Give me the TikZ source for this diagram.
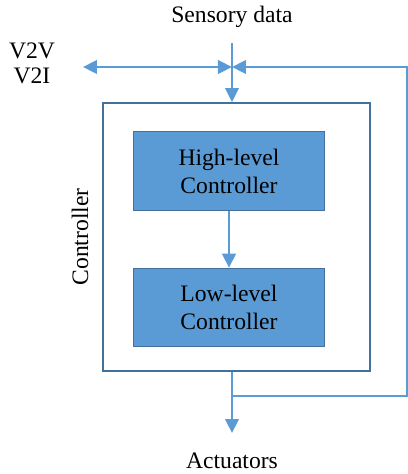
\documentclass[tikz,border=0pt]{standalone}
\usepackage{fontspec}
\setmainfont{Liberation Serif}
\usetikzlibrary{arrows.meta,positioning,calc}
\definecolor{flowblue}{RGB}{91,155,213}
\definecolor{edgeblue}{RGB}{65,113,156}
\tikzset{
  flow/.style={-{Triangle[length=3.5mm,width=3.4mm]}, flowblue, line width=1.3pt},
  bothflow/.style={{Triangle[length=3.5mm,width=3.4mm]}-{Triangle[length=3.5mm,width=3.4mm]}, flowblue, line width=1.3pt},
  frame/.style={draw=edgeblue, line width=1.3pt, minimum width=6.675cm, minimum height=6.7cm},
  ctrlbox/.style={draw=edgeblue, fill=flowblue, line width=0.8pt,
                  minimum width=4.775cm, minimum height=1.96cm, align=center},
  lbl/.style={font=\fontsize{16.8}{20}\selectfont, text=black},
}

\begin{document}
\begin{tikzpicture}
    \useasboundingbox (0,0) rectangle (10.175,11.85);
    % controller block with its two levels
    \node[frame] (ctrl) at (5.9125,5.925) {};
    \node[ctrlbox, lbl] (hlc) at (5.725,7.575) {High-level\\Controller};
    \node[ctrlbox, lbl] (llc) at (5.725,4.1625) {Low-level\\Controller};
    \node[lbl, rotate=90] (side) at (2.0,5.925) {Controller};
    \draw[flow] (hlc) -- (llc);
    % inputs on top
    \node[lbl] (sens) at (5.8,11.425) {Sensory data};
    \node[lbl] (v2v) at (0.8,10.575) {V2V};
    \node[lbl] (v2i) at (0.8,9.95) {V2I};
    \coordinate (sin) at (5.8,10.775);
    \coordinate (jn) at (5.8,10.175);
    \coordinate (vx) at (2.075,10.175);
    \coordinate (rtop) at (10.175,10.175);
    \draw[flow] (sin) -- (sin |- ctrl.north);
    \draw[bothflow] (vx) -- (jn);
    % output and feedback loop
    \node[lbl] (act) at (5.8,0.325) {Actuators};
    \coordinate (aout) at (5.8,1.025);
    \coordinate (join) at (5.8,1.95);
    \draw[flow] (ctrl.south -| aout) -- (aout);
    \draw[flow] (join) -| (rtop) -- (jn);
\end{tikzpicture}
\end{document}
